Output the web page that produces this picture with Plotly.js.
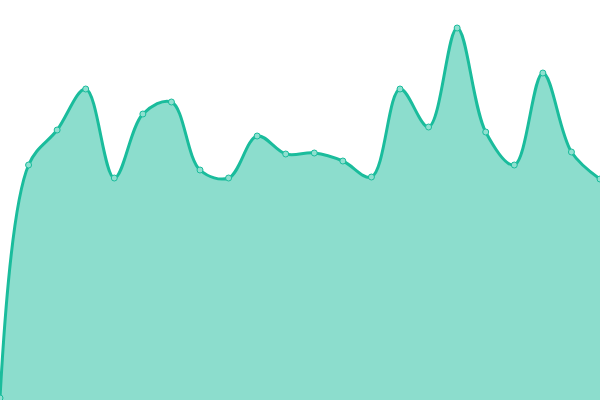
<!DOCTYPE html>
<html>
<head>
<meta charset="utf-8">
<script src="https://cdn.plot.ly/plotly-3.0.1.min.js"></script>
<style>
  html, body { margin: 0; padding: 0; background: #fff; }
  #chart { width: 600px; height: 400px; }
</style>
</head>
<body>
<div id="chart"></div>
<script>
// values
var xIdx = [0, 1, 2, 3, 4, 5, 6, 7, 8, 9, 10, 11, 12, 13, 14, 15, 16, 17, 18, 19, 20, 21];
var yVals = [2, 235, 270, 311, 222, 286, 298, 230, 222, 264, 246, 247, 239, 223, 311, 273, 372, 268, 235, 327, 248, 221];

var trace = {
  type: 'scatter',
  mode: 'lines+markers',
  x: xIdx,
  y: yVals,
  fill: 'tozeroy',
  fillcolor: 'rgba(26,188,156,0.5)',
  line: { color: '#1abc9c', width: 3, shape: 'spline', smoothing: 1 },
  marker: { size: 6, color: '#8fe0d0', line: { color: '#1abc9c', width: 1 } },
  hoverinfo: 'none'
};

var layout = {
  width: 600,
  height: 400,
  margin: { t: 0, b: 0, l: 0, r: 0, pad: 0 },
  paper_bgcolor: '#fff',
  plot_bgcolor: '#fff',
  showlegend: false,
  xaxis: { range: [0, 21], visible: false, fixedrange: true },
  yaxis: { range: [0, 400], visible: false, fixedrange: true }
};

Plotly.newPlot('chart', [trace], layout, { displayModeBar: false, staticPlot: true });
</script>
</body>
</html>
